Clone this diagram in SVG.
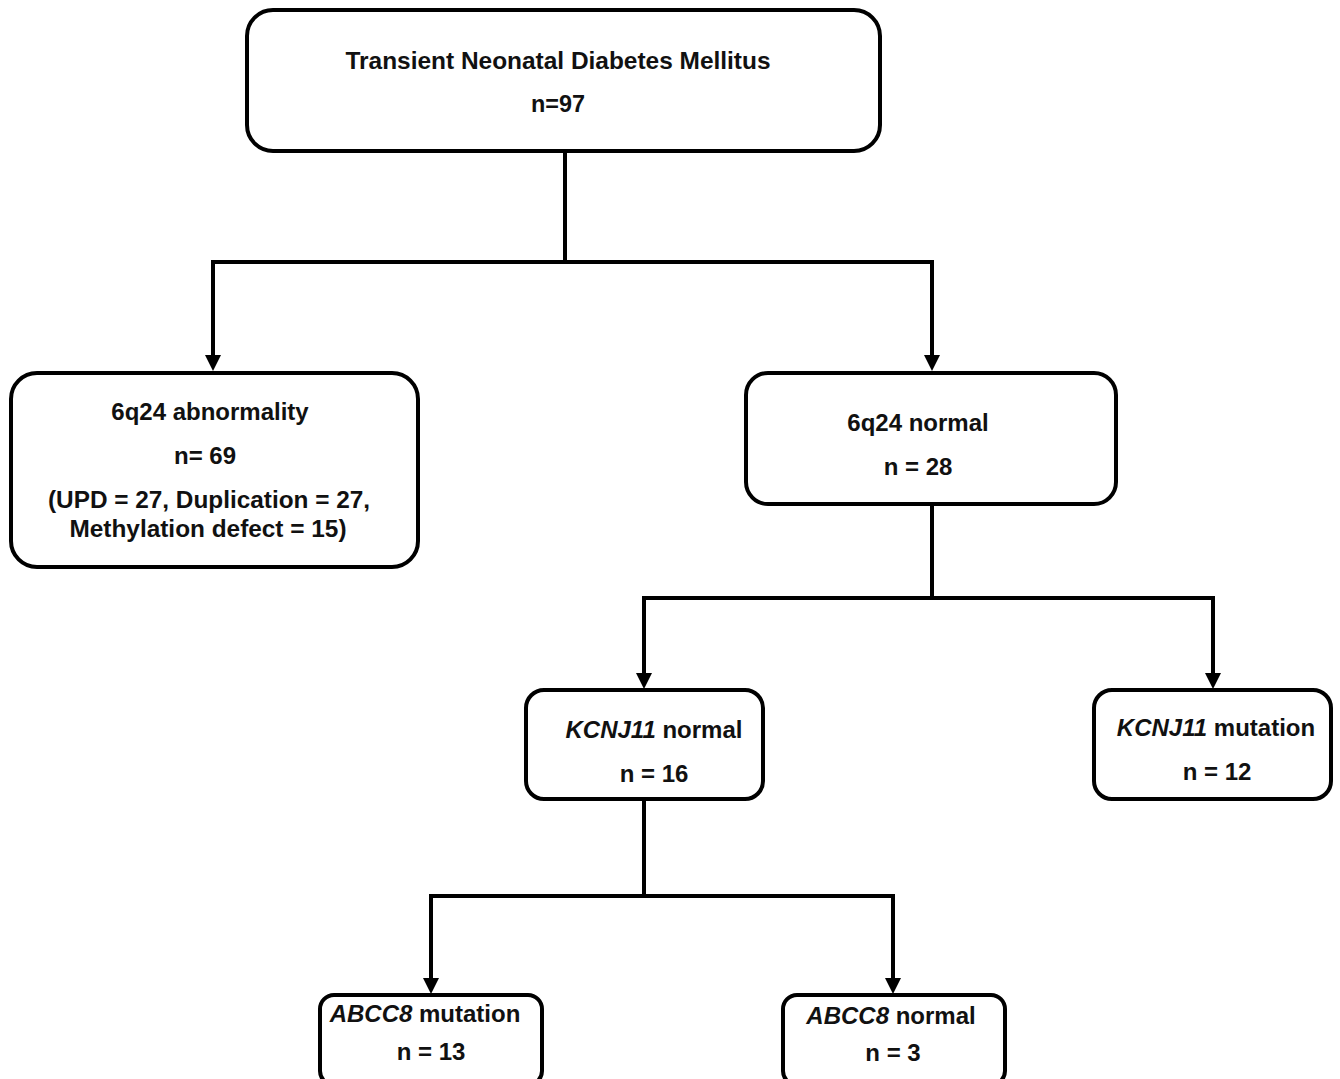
<svg xmlns="http://www.w3.org/2000/svg" width="1340" height="1079" viewBox="0 0 1340 1079">
<style>
.box{fill:#fff;stroke:#000;stroke-width:4}
.t{font-family:"Liberation Sans",Arial,sans-serif;font-weight:bold;font-size:24px;text-anchor:middle;fill:#111}
.i{font-style:italic}
.c{fill:none;stroke:#000;stroke-width:4}
.a{fill:none;stroke:#000;stroke-width:4;marker-end:url(#ah)}
</style>
<defs>
<marker id="ah" markerUnits="userSpaceOnUse" markerWidth="16" markerHeight="16" refX="2" refY="8" orient="auto" viewBox="0 0 16 16">
<path d="M0,0 L16,8 L0,16 Z" fill="#000"/>
</marker>
</defs>
<rect width="1340" height="1079" fill="#fff"/>
<g id="connectors">
<path class="c" d="M565,151 V262"/>
<path class="c" d="M211,262 H934"/>
<path class="a" d="M213,262 V357"/>
<path class="a" d="M932,262 V357"/>
<path class="c" d="M932,504 V598"/>
<path class="c" d="M642,598 H1215"/>
<path class="a" d="M644,598 V675"/>
<path class="a" d="M1213,598 V675"/>
<path class="c" d="M644,799 V896"/>
<path class="c" d="M429,896 H895"/>
<path class="a" d="M431,896 V980"/>
<path class="a" d="M893,896 V980"/>
</g>
<g id="root">
<rect class="box" x="247" y="10" width="633" height="141" rx="26"/>
<text class="t" x="558" y="69" textLength="425" lengthAdjust="spacingAndGlyphs">Transient Neonatal Diabetes Mellitus</text>
<text class="t" x="558" y="112" textLength="54" lengthAdjust="spacingAndGlyphs">n=97</text>
</g>
<g id="abnormal">
<rect class="box" x="11" y="373" width="407" height="194" rx="26"/>
<text class="t" x="210" y="420">6q24 abnormality</text>
<text class="t" x="205" y="464">n= 69</text>
<text class="t" x="209" y="508" textLength="322" lengthAdjust="spacingAndGlyphs">(UPD = 27, Duplication = 27,</text>
<text class="t" x="208" y="537" textLength="277" lengthAdjust="spacingAndGlyphs">Methylation defect = 15)</text>
</g>
<g id="normal6q24">
<rect class="box" x="746" y="373" width="370" height="131" rx="22"/>
<text class="t" x="918" y="431">6q24 normal</text>
<text class="t" x="918" y="475">n = 28</text>
</g>
<g id="kcnj11normal">
<rect class="box" x="526" y="690" width="237" height="109" rx="18"/>
<text class="t" x="654" y="738"><tspan class="i">KCNJ11</tspan> normal</text>
<text class="t" x="654" y="782">n = 16</text>
</g>
<g id="kcnj11mutation">
<rect class="box" x="1094" y="690" width="237" height="109" rx="18"/>
<text class="t" x="1216" y="736"><tspan class="i">KCNJ11</tspan> mutation</text>
<text class="t" x="1217" y="780">n = 12</text>
</g>
<g id="abcc8mutation">
<rect class="box" x="320" y="995" width="222" height="90" rx="14"/>
<text class="t" x="425" y="1022"><tspan class="i">ABCC8</tspan> mutation</text>
<text class="t" x="431" y="1060">n = 13</text>
</g>
<g id="abcc8normal">
<rect class="box" x="783" y="995" width="222" height="90" rx="14"/>
<text class="t" x="891" y="1024"><tspan class="i">ABCC8</tspan> normal</text>
<text class="t" x="893" y="1061">n = 3</text>
</g>
</svg>
